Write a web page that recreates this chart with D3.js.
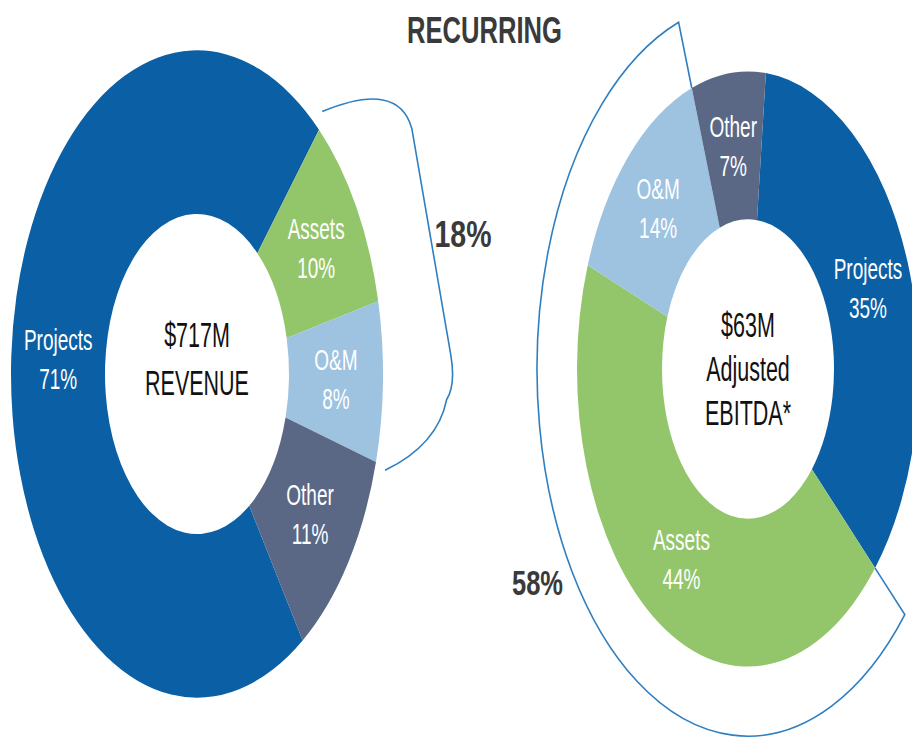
<!DOCTYPE html>
<html>
<head>
<meta charset="utf-8">
<script src="https://cdn.jsdelivr.net/npm/d3@7"></script>
<style>
  html, body { margin: 0; padding: 0; background: #fff; }
  svg { display: block; font-family: "Liberation Sans", Arial, Helvetica, sans-serif; }
</style>
</head>
<body>
<svg id="chart" width="912" height="737"></svg>
<script>
// chart data
const segmentNames = ["Projects", "Assets", "O&M", "Other"];
const revenueShares = [71, 10, 8, 11];
const ebitdaShares = [35, 44, 14, 7];
const revenueCenterText = ["$717M", "REVENUE"];
const ebitdaCenterText = ["$63M", "Adjusted", "EBITDA*"];
const recurringLabels = ["18%", "58%"];
const titleText = "RECURRING";

const colorMap = {
  "Projects": "#0a5fa5",
  "Assets": "#93c66b",
  "O&M": "#9dc3e1",
  "Other": "#5a6886"
};
const textDark = "#3a3a3a";
const bracketColor = "#2e7fc2";
const stretch = 1.74; // the whole picture is squeezed horizontally
const rad = deg => deg * Math.PI / 180;

const svg = d3.select("#chart");

const toRows = shares => segmentNames.map((name, i) => ({ name: name, value: shares[i] }));

// polar -> local (unstretched) coords, angle from 12 o'clock clockwise
const polar = (deg, r) => [r * Math.sin(rad(deg)), -r * Math.cos(rad(deg))];

function drawDonut(opts) {
  const pie = d3.pie()
      .sort(null)
      .value(d => d.value)
      .startAngle(rad(opts.start))
      .endAngle(rad(opts.start) + 2 * Math.PI);
  const arcs = pie(toRows(opts.shares));

  const arc = d3.arc().innerRadius(opts.inner).outerRadius(opts.outer);

  const g = svg.append("g")
      .attr("transform", "translate(" + opts.cx + "," + opts.cy + ") scale(1," + stretch + ")");

  g.selectAll("path.slice")
    .data(arcs)
    .enter().append("path")
      .attr("class", "slice")
      .attr("d", arc)
      .attr("fill", d => colorMap[d.data.name]);

  // segment labels, two lines each
  const labelArc = d3.arc().innerRadius(opts.inner).outerRadius(opts.outer);
  arcs.forEach(d => {
    const c = labelArc.centroid(d);
    const x = opts.cx + c[0];
    const mid = opts.cy + c[1] * stretch;
    const lines = [d.data.name, d.data.value + "%"];
    lines.forEach((t, i) => {
      svg.append("text")
        .attr("transform", "translate(" + x + "," + (mid - 10 + i * 39) + ") scale(1,1.6)")
        .attr("text-anchor", "middle")
        .attr("font-size", 19)
        .attr("fill", "#fff")
        .text(t);
    });
  });

  // centre text
  opts.centerText.forEach((t, i) => {
    svg.append("text")
      .attr("transform", "translate(" + opts.cx + "," + (opts.cy + opts.centerTop + i * opts.centerStep) + ") scale(1,1.62)")
      .attr("text-anchor", "middle")
      .attr("font-size", 21.5)
      .attr("fill", "#111")
      .text(t);
  });

  return { g: g, arcs: arcs };
}

// left donut: revenue
const left = drawDonut({
  cx: 197, cy: 374, outer: 186, inner: 92, start: 145.4,
  shares: revenueShares, centerText: revenueCenterText, centerTop: -27, centerStep: 48
});

// right donut: adjusted EBITDA
const right = drawDonut({
  cx: 748, cy: 369, outer: 171, inner: 86, start: 6,
  shares: ebitdaShares, centerText: ebitdaCenterText, centerTop: -32, centerStep: 44
});

// left bracket round the recurring slices (Assets + O&M)
{
  const a0 = left.arcs[1].startAngle * 180 / Math.PI;
  const a1 = left.arcs[2].endAngle * 180 / Math.PI;
  const P = (d, r) => polar(d, r);
  const p = d3.path();
  let s = P(a0 - 1.3, 196);
  p.moveTo(s[0], s[1]);
  let c = P(50, 263), e = P(56.7, 257);
  p.quadraticCurveTo(c[0], c[1], e[0], e[1]);
  e = P(87.5, 254);
  p.lineTo(e[0], e[1]);
  c = P(91.4, 259); e = P(93.4, 250);
  p.quadraticCurveTo(c[0], c[1], e[0], e[1]);
  c = P(99.6, 244); e = P(a1 + 0.6, 196);
  p.quadraticCurveTo(c[0], c[1], e[0], e[1]);
  left.g.append("path")
    .attr("d", p.toString())
    .attr("fill", "none")
    .attr("stroke", bracketColor)
    .attr("stroke-width", 1.6)
    .attr("vector-effect", "non-scaling-stroke");
}

// right bracket: radial tick, long arc round the left, radial tick
{
  const a0 = right.arcs[1].startAngle;
  const a1 = right.arcs[2].endAngle;
  const rOut = 171, R = 211;
  const p = d3.path();
  const s = polar(a1 * 180 / Math.PI, rOut);
  const t = polar(a1 * 180 / Math.PI, R);
  const e = polar(a0 * 180 / Math.PI, rOut);
  p.moveTo(s[0], s[1]);
  p.lineTo(t[0], t[1]);
  p.arc(0, 0, R, a1 - Math.PI / 2, a0 - Math.PI / 2, true);
  p.lineTo(e[0], e[1]);
  right.g.append("path")
    .attr("d", p.toString())
    .attr("fill", "none")
    .attr("stroke", bracketColor)
    .attr("stroke-width", 1.6)
    .attr("vector-effect", "non-scaling-stroke");
}

// title and recurring shares
svg.append("text")
  .attr("transform", "translate(484.5,43) scale(1,1.42)")
  .attr("text-anchor", "middle")
  .attr("font-size", 25.6)
  .attr("font-weight", "bold")
  .attr("fill", textDark)
  .text(titleText);

svg.append("text")
  .attr("transform", "translate(463,247) scale(1,1.32)")
  .attr("text-anchor", "middle")
  .attr("font-size", 28.5)
  .attr("font-weight", "bold")
  .attr("fill", textDark)
  .text(recurringLabels[0]);

svg.append("text")
  .attr("transform", "translate(537.5,595) scale(1,1.37)")
  .attr("text-anchor", "middle")
  .attr("font-size", 25.5)
  .attr("font-weight", "bold")
  .attr("fill", textDark)
  .text(recurringLabels[1]);
</script>
</body>
</html>
